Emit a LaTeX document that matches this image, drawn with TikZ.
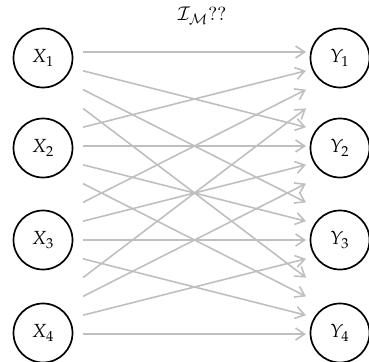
\documentclass[tikz,border=0pt]{standalone}
\usepackage{mathpazo}
\usetikzlibrary{arrows.meta}
\begin{document}
\begin{tikzpicture}[x=1pt,y=-1pt,
  var/.style={draw, circle, line width=1.7pt, minimum size=59pt, inner sep=0pt},
  flow/.style={draw=black!25, line width=1.6pt, -{Straight Barb[length=9pt,width=12pt]}},
  titlestyle/.style={inner sep=0pt}]
\useasboundingbox (0,0) rectangle (369,361);
\foreach \i/\y in {1/58,2/148,3/240,4/333}{
  \node[var] (X\i) at (43,\y) {\scalebox{1.9}{$X_{\i}$}};
  \node[var] (Y\i) at (340,\y) {\scalebox{1.9}{$Y_{\i}$}};
}
\foreach \k in {0,...,15}{
  \coordinate (s\k) at (83,{52+18.8*\k});
  \coordinate (t\k) at (306,{52+18.8*\k});
}
\foreach \i in {0,...,3}{
  \foreach \j in {0,...,3}{
    \pgfmathtruncatemacro\a{4*\i+\j}
    \pgfmathtruncatemacro\b{4*\j+\i}
    \draw[flow] (s\a) -- (t\b);
  }
}
\node[titlestyle] (title) at (202,16) {\scalebox{1.9}{$\mathcal{I}_{\mathcal{M}}$??}};
\end{tikzpicture}
\end{document}
